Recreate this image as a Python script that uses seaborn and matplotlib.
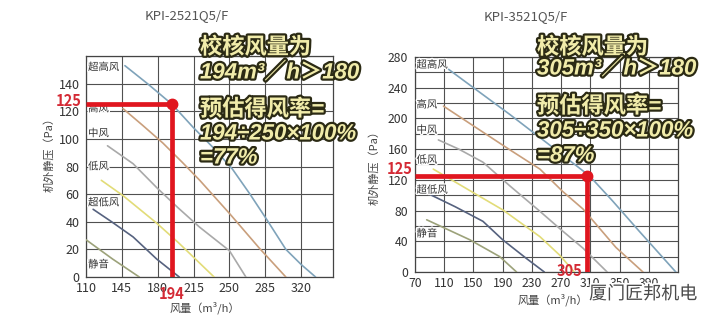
import matplotlib
matplotlib.use("Agg")
import matplotlib.pyplot as plt
import matplotlib.patheffects as pe
import matplotlib.transforms as mtransforms
import numpy as np
import pandas as pd
import seaborn as sns
import warnings
import logging

warnings.filterwarnings("ignore")
logging.getLogger("matplotlib.font_manager").setLevel(logging.ERROR)

# ---------------- data ----------------
series_names = ["超高风", "高风", "中风", "低风", "超低风", "静音"]
series_colors = ["#7fa3ba", "#c99f7c", "#a9a9a9", "#e2dc78", "#56627f", "#9ca27a"]

# Left panel: KPI-2521Q5/F
left_title = "KPI-2521Q5/F"
left_xticks = [110, 145, 180, 215, 250, 285, 320]
left_yticks = [0, 20, 40, 60, 80, 100, 120, 140]
left_sh_x = [148, 170, 194, 215, 235, 253, 270, 286, 305, 320, 334]
left_sh_y = [153, 140, 125, 108, 93, 78, 60, 42, 20, 9, 0]
left_h_x = [146, 165, 185, 204, 221, 250, 279, 305]
left_h_y = [122, 110, 97, 83, 70, 46, 21, 0]
left_m_x = [131, 156, 180, 200, 221, 250, 266]
left_m_y = [95, 82, 64, 50, 36, 19, 0]
left_l_x = [125, 146, 179, 200, 214, 235]
left_l_y = [70, 59, 39, 25, 15, 0]
left_sl_x = [117, 135, 156, 179, 201]
left_sl_y = [49, 40, 29, 13, 0]
left_q_x = [110, 136, 162]
left_q_y = [27, 13, 0]
left_label_y = [152, 122, 104, 80, 54, 9]
left_check_flow = 194
left_check_pressure = 125
left_text = ["校核风量为", "194m³／h＞180", "预估得风率=", "194÷250×100%", "=77%"]

# Right panel: KPI-3521Q5/F
right_title = "KPI-3521Q5/F"
right_xticks = [70, 110, 150, 190, 230, 270, 310, 350, 390]
right_yticks = [0, 40, 80, 120, 160, 200, 240, 280]
right_sh_x = [113, 150, 200, 263, 309, 340, 377, 427]
right_sh_y = [266, 240, 205, 159, 125, 93, 53, 0]
right_h_x = [109, 160, 200, 241, 272, 300, 345, 382]
right_h_y = [216, 184, 159, 134, 105, 82, 32, 0]
right_m_x = [102, 130, 163, 200, 241, 270, 300, 333]
right_m_y = [172, 160, 143, 112, 79, 55, 31, 0]
right_l_x = [95, 154, 190, 241, 268, 288]
right_l_y = [134, 101, 81, 46, 22, 0]
right_sl_x = [86, 125, 163, 190, 222, 247]
right_sl_y = [103, 85, 66, 42, 18, 0]
right_q_x = [86, 145, 186, 209]
right_q_y = [68, 42, 20, 0]
right_label_y = [270, 218, 185, 146, 107, 50]
right_check_flow = 305
right_check_pressure = 125
right_text = ["校核风量为", "305m³／h＞180", "预估得风率=", "305÷350×100%", "=87%"]


def build_df(xs_list, ys_list):
    rows = []
    for name, xs, ys in zip(series_names, xs_list, ys_list):
        for i, (x, y) in enumerate(zip(xs, ys)):
            rows.append({"series": name, "order": i, "flow": x, "pressure": y})
    return pd.DataFrame(rows)


left_df = build_df([left_sh_x, left_h_x, left_m_x, left_l_x, left_sl_x, left_q_x],
                   [left_sh_y, left_h_y, left_m_y, left_l_y, left_sl_y, left_q_y])
right_df = build_df([right_sh_x, right_h_x, right_m_x, right_l_x, right_sl_x, right_q_x],
                    [right_sh_y, right_h_y, right_m_y, right_l_y, right_sl_y, right_q_y])

# ---------------- style ----------------
sns.set_style("white")
CJK = ["Noto Sans CJK SC", "DejaVu Sans"]
BIG = ["Liberation Sans", "Noto Sans CJK SC", "DejaVu Sans"]
plt.rcParams["font.family"] = CJK
plt.rcParams["axes.unicode_minus"] = False

RED = "#e0161f"
RED_TXT = "#d42a35"
GRID = "#505050"
palette = dict(zip(series_names, series_colors))

fig = plt.figure(figsize=(7.2, 3.26), dpi=100)
fig.patch.set_facecolor("white")
ax1 = fig.add_axes([0.1194, 0.1503, 0.3431, 0.6779])
ax2 = fig.add_axes([0.5764, 0.1656, 0.3653, 0.6596])


def style_axes(ax, xlim, ylim, xticks, yticks, yminor, xpad, ypad, lsize):
    ax.set_xlim(*xlim)
    ax.set_ylim(*ylim)
    ax.set_xticks(xticks)
    ax.set_yticks(yticks)
    ax.set_yticks(yminor, minor=True)
    ax.grid(True, which="both", color=GRID, lw=0.8, zorder=0)
    ax.tick_params(axis="both", which="both", length=0, labelsize=lsize, colors="#333333")
    ax.tick_params(axis="x", pad=xpad)
    ax.tick_params(axis="y", pad=ypad)
    for s in ax.spines.values():
        s.set_visible(True)
        s.set_color("#444444")
        s.set_linewidth(0.9)
    ax.set_xlabel("")
    ax.set_ylabel("")
    ax.set_axisbelow(True)


def draw_panel(ax, df, label_y, label_x, flow, pres, text_lines, text_x, text_ys):
    sns.lineplot(data=df, x="flow", y="pressure", hue="series", palette=palette,
                 units="series", estimator=None, sort=False, legend=False,
                 lw=1.2, ax=ax, zorder=3)
    ax.set_xlabel("")
    ax.set_ylabel("")
    for name, ly in zip(series_names, label_y):
        ax.text(label_x, ly, name, fontsize=7.5, color="#333333", va="center",
                ha="left", zorder=4,
                path_effects=[pe.withStroke(linewidth=2, foreground="white")])
    x0 = ax.get_xlim()[0]
    ax.plot([x0, flow], [pres, pres], color=RED, lw=3.4, solid_capstyle="butt", zorder=6)
    ax.plot([flow, flow], [0, pres], color=RED, lw=3.4, solid_capstyle="butt", zorder=6)
    ax.plot([flow], [pres], "o", color=RED, ms=7.5, zorder=7)
    for t, ty in zip(text_lines, text_ys):
        fig.text(text_x, ty, t, fontsize=16, fontweight="bold", fontstyle="italic",
                 family=BIG, color="#f1ecaa",
                 ha="left", va="center", zorder=20,
                 path_effects=[pe.withStroke(linewidth=3.2, foreground="#2b2a14")])


style_axes(ax1, (110, 351), (0, 160), left_xticks, left_yticks,
           [20 * i for i in range(9)], 3.5, 4.5, 9)
style_axes(ax2, (70, 430), (0, 280), right_xticks, right_yticks,
           [20 * i for i in range(15)], 3.5, 5, 8.8)

draw_panel(ax1, left_df, left_label_y, 112, left_check_flow, left_check_pressure,
           left_text, 200 / 720, [1 - y / 326 for y in [48, 73, 110, 134, 158]])
draw_panel(ax2, right_df, right_label_y, 72, right_check_flow, right_check_pressure,
           right_text, 537 / 720, [1 - y / 326 for y in [48, 69, 107, 131, 156]])

# red value labels
trans1 = mtransforms.blended_transform_factory(ax1.transAxes, ax1.transData)
ax1.annotate(str(left_check_pressure), xy=(0, left_check_pressure),
             xycoords=trans1, xytext=(-3, 2.5), textcoords="offset points",
             ha="right", va="center", color=RED_TXT, fontsize=10.5,
             fontweight="bold", zorder=8, annotation_clip=False)
ax1.annotate(str(left_check_flow), xy=(left_check_flow, 0),
             xycoords=("data", "axes fraction"), xytext=(0, -12.5),
             textcoords="offset points", ha="center", va="center",
             color=RED_TXT, fontsize=10.5, fontweight="bold", zorder=8,
             annotation_clip=False)
trans2 = mtransforms.blended_transform_factory(ax2.transAxes, ax2.transData)
ax2.annotate(str(right_check_pressure), xy=(0, right_check_pressure),
             xycoords=trans2, xytext=(-2, 5), textcoords="offset points",
             ha="right", va="center", color=RED_TXT, fontsize=10.5,
             fontweight="bold", zorder=8, annotation_clip=False)
ax2.annotate(str(right_check_flow), xy=(right_check_flow, 0),
             xycoords=("data", "axes fraction"), xytext=(-3, 1),
             textcoords="offset points", ha="right", va="center",
             color=RED_TXT, fontsize=10.5, fontweight="bold", zorder=8,
             annotation_clip=False)

# titles and axis labels
fig.text(187 / 720, 1 - 16 / 326, left_title, fontsize=9.5, color="#555555",
         ha="center", va="center")
fig.text(526 / 720, 1 - 17 / 326, right_title, fontsize=9.5, color="#555555",
         ha="center", va="center")
fig.text(49 / 720, 1 - 152 / 326, "机外静压（Pa）", rotation=90, fontsize=8,
         color="#444444", ha="center", va="center")
fig.text(374 / 720, 1 - 165 / 326, "机外静压（Pa）", rotation=90, fontsize=8,
         color="#444444", ha="center", va="center")
fig.text(205 / 720, 1 - 308 / 326, "风量（m³/h）", fontsize=8, color="#444444",
         ha="center", va="center")
fig.text(553 / 720, 1 - 300 / 326, "风量（m³/h）", fontsize=8, color="#444444",
         ha="center", va="center")

# watermark
fig.text(643 / 720, 1 - 294 / 326, "厦门匠邦机电", fontsize=13, color="#4a4a4a",
         ha="center", va="center", zorder=30,
         path_effects=[pe.withStroke(linewidth=2.5, foreground="white")])

fig.savefig("out.png", dpi=100, facecolor="white")
